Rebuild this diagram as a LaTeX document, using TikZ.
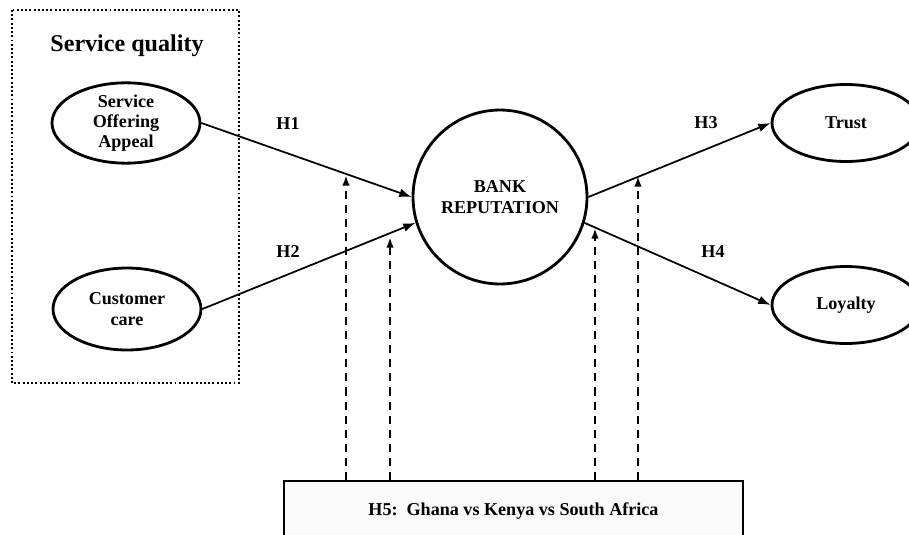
\documentclass[tikz,border=0pt]{standalone}
\usepackage{fontspec}
\setmainfont{Liberation Serif}
\usetikzlibrary{arrows.meta,shapes.geometric}

\tikzset{
  construct/.style={ellipse,draw,line width=1.6pt,minimum width=2.96cm,minimum height=1.54cm,
    inner sep=0pt,align=center,font=\bfseries\fontsize{10.3}{11.5}\selectfont},
  hyparrow/.style={-{Latex[length=7pt,width=5pt]},line width=1pt},
  modarrow/.style={-{Latex[length=6pt,width=4.2pt]},line width=1.3pt,dash pattern=on 4.6pt off 3.4pt},
  hlabel/.style={font=\bfseries\fontsize{10.3}{12}\selectfont}
}

\begin{document}
\begin{tikzpicture}[x=0.02cm,y=-0.02cm,line width=0.8pt]

        \useasboundingbox (0,0) rectangle (909,534);

        % ------------------------------------------------ service quality block
        \draw[line width=1.5pt,dash pattern=on 1.1pt off 1.3pt] (12,10) rectangle (239,383);
        \node[font=\bfseries\fontsize{13.7}{16}\selectfont] (sq) at (127,46) {Service quality};

        \node[construct] (soa) at (126,123) {Service\\Offering\\Appeal};
        \node[construct,minimum height=1.64cm] (care) at (127,309) {Customer\\care};

        % ------------------------------------------------ centre and outcomes
        \node[circle,draw,line width=1.6pt,minimum size=3.48cm,align=center,
              font=\bfseries\fontsize{10.3}{12}\selectfont] (bank) at (500,197) {BANK\\REPUTATION};

        \node[construct] (trust) at (846,123) {Trust};
        \node[construct] (loyal) at (846,305) {Loyalty};

        % ------------------------------------------------ hypotheses H1 - H4
        \draw[hyparrow] (soa.east) -- (bank.180);
        \draw[hyparrow] (care.east) -- (bank.197);
        \draw[hyparrow] (bank.0) -- (trust.west);
        \draw[hyparrow] (bank.-17) -- (loyal.west);

        \node[hlabel] (h1) at (288,124) {H1};
        \node[hlabel] (h2) at (288,252) {H2};
        \node[hlabel] (h3) at (706,123) {H3};
        \node[hlabel] (h4) at (713,252) {H4};

        % ------------------------------------------------ moderator H5
        \node[draw,line width=1.3pt,fill=black!2,minimum width=9.18cm,minimum height=1.2cm,
              font=\bfseries\fontsize{10.3}{12}\selectfont] (h5) at (513.5,511) {H5:\ \ Ghana vs Kenya vs South Africa};

        \coordinate (m1) at (346,175);
        \coordinate (m2) at (390,237);
        \coordinate (m3) at (595,228);
        \coordinate (m4) at (638,176);
        \foreach \m in {m1,m2,m3,m4}
          \draw[modarrow] (\m |- h5.north) -- (\m);

\end{tikzpicture}
\end{document}
